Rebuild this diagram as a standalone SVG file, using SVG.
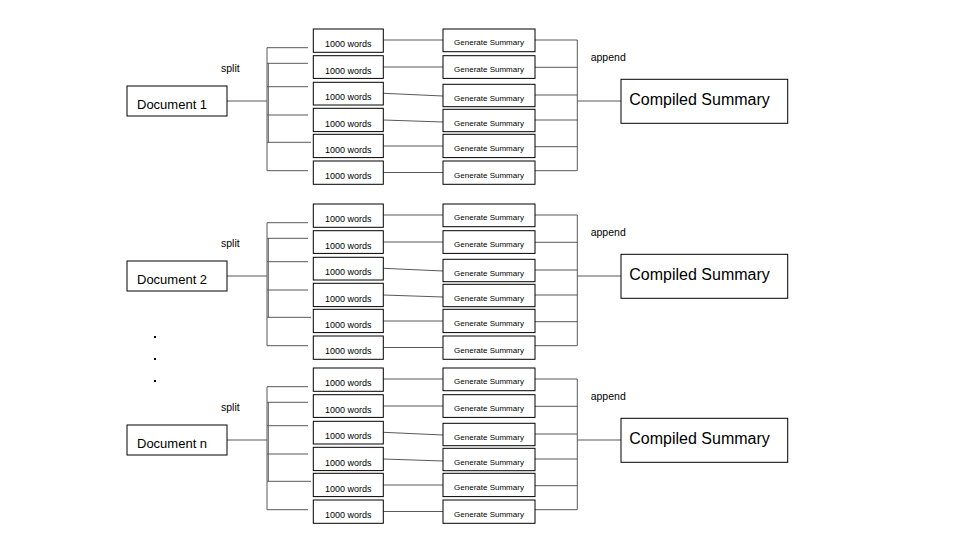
<svg xmlns="http://www.w3.org/2000/svg" width="960" height="540" viewBox="0 0 960 540">
<style>
  .box{fill:#ffffff;stroke:#000000;stroke-width:1}
  .ln{fill:none;stroke:#595959;stroke-width:1}
  text{font-family:"Liberation Sans",Arial,sans-serif;fill:#000000}
  .doc{font-size:13px}
  .cmp{font-size:16px}
  .w{font-size:9px}
  .gs{font-size:8px}
  .lbl{font-size:10.5px}
</style>
<rect width="960" height="540" fill="#ffffff"/>
<defs>
  <g id="tree">
    <path class="ln" d="M227,101H267M267,47.7V170.7M268.3,63.3V142.3M267,47.7H308M267,63.3H308M267,86.7H308M267,115H308M267,142.3H311M267,170.7H308"/>
    <path class="ln" d="M383.3,40H443M383.3,67H443M383.3,93.3L443,96M383.3,120L443,122M383.3,146H443M383.3,172.5H443"/>
    <path class="ln" d="M535,40H577.3M535,67.3H577.3M535,95H577.3M535,120H577.3M535,146.7H577.3M535,170.7H577.3M577.3,40V170.7M577.3,101H621"/>
  </g>
</defs>
<g id="connectors">
  <use href="#tree"/>
  <use href="#tree" transform="translate(0,175)"/>
  <use href="#tree" transform="translate(0,339)"/>
</g>

<g id="section1">
  <g id="doc1"><rect class="box" x="127" y="86" width="100" height="30"/><text class="doc" x="137" y="109">Document 1</text></g>
  <text class="lbl" x="221" y="72">split</text>
  <g id="w1_1"><rect class="box" x="313.3" y="29" width="70" height="23.3"/><text class="w" x="325" y="47">1000 words</text></g>
  <g id="w1_2"><rect class="box" x="313.3" y="55.7" width="70" height="22.7"/><text class="w" x="325" y="73.5">1000 words</text></g>
  <g id="w1_3"><rect class="box" x="313.3" y="82.3" width="70" height="22.7"/><text class="w" x="325" y="100.3">1000 words</text></g>
  <g id="w1_4"><rect class="box" x="313.3" y="108.3" width="70" height="23.3"/><text class="w" x="325" y="126.5">1000 words</text></g>
  <g id="w1_5"><rect class="box" x="313.3" y="134.3" width="70" height="23.3"/><text class="w" x="325" y="152.5">1000 words</text></g>
  <g id="w1_6"><rect class="box" x="313.3" y="161" width="70" height="23.3"/><text class="w" x="325" y="179">1000 words</text></g>
  <g id="g1_1"><rect class="box" x="443" y="29" width="92" height="22.7"/><text class="gs" x="489" y="45" text-anchor="middle">Generate Summary</text></g>
  <g id="g1_2"><rect class="box" x="443" y="55.7" width="92" height="22.7"/><text class="gs" x="489" y="72" text-anchor="middle">Generate Summary</text></g>
  <g id="g1_3"><rect class="box" x="443" y="84.3" width="92" height="22.4"/><text class="gs" x="489" y="100.5" text-anchor="middle">Generate Summary</text></g>
  <g id="g1_4"><rect class="box" x="443" y="109.3" width="92" height="22.4"/><text class="gs" x="489" y="126" text-anchor="middle">Generate Summary</text></g>
  <g id="g1_5"><rect class="box" x="443" y="134.3" width="92" height="23.3"/><text class="gs" x="489" y="151" text-anchor="middle">Generate Summary</text></g>
  <g id="g1_6"><rect class="box" x="443" y="161" width="92" height="23.3"/><text class="gs" x="489" y="177.5" text-anchor="middle">Generate Summary</text></g>
  <text class="lbl" x="590.7" y="61">append</text>
  <g id="c1"><rect class="box" x="621" y="79.3" width="166.7" height="44"/><text class="cmp" x="629.3" y="105">Compiled Summary</text></g>
</g>

<g id="section2" transform="translate(0,175)">
  <g id="doc2"><rect class="box" x="127" y="86" width="100" height="30"/><text class="doc" x="137" y="109">Document 2</text></g>
  <text class="lbl" x="221" y="72">split</text>
  <g id="w2_1"><rect class="box" x="313.3" y="29" width="70" height="23.3"/><text class="w" x="325" y="47">1000 words</text></g>
  <g id="w2_2"><rect class="box" x="313.3" y="55.7" width="70" height="22.7"/><text class="w" x="325" y="73.5">1000 words</text></g>
  <g id="w2_3"><rect class="box" x="313.3" y="82.3" width="70" height="22.7"/><text class="w" x="325" y="100.3">1000 words</text></g>
  <g id="w2_4"><rect class="box" x="313.3" y="108.3" width="70" height="23.3"/><text class="w" x="325" y="126.5">1000 words</text></g>
  <g id="w2_5"><rect class="box" x="313.3" y="134.3" width="70" height="23.3"/><text class="w" x="325" y="152.5">1000 words</text></g>
  <g id="w2_6"><rect class="box" x="313.3" y="161" width="70" height="23.3"/><text class="w" x="325" y="179">1000 words</text></g>
  <g id="g2_1"><rect class="box" x="443" y="29" width="92" height="22.7"/><text class="gs" x="489" y="45" text-anchor="middle">Generate Summary</text></g>
  <g id="g2_2"><rect class="box" x="443" y="55.7" width="92" height="22.7"/><text class="gs" x="489" y="72" text-anchor="middle">Generate Summary</text></g>
  <g id="g2_3"><rect class="box" x="443" y="84.3" width="92" height="22.4"/><text class="gs" x="489" y="100.5" text-anchor="middle">Generate Summary</text></g>
  <g id="g2_4"><rect class="box" x="443" y="109.3" width="92" height="22.4"/><text class="gs" x="489" y="126" text-anchor="middle">Generate Summary</text></g>
  <g id="g2_5"><rect class="box" x="443" y="134.3" width="92" height="23.3"/><text class="gs" x="489" y="151" text-anchor="middle">Generate Summary</text></g>
  <g id="g2_6"><rect class="box" x="443" y="161" width="92" height="23.3"/><text class="gs" x="489" y="177.5" text-anchor="middle">Generate Summary</text></g>
  <text class="lbl" x="590.7" y="61">append</text>
  <g id="c2"><rect class="box" x="621" y="79.3" width="166.7" height="44"/><text class="cmp" x="629.3" y="105">Compiled Summary</text></g>
</g>

<g id="dots" fill="#000000">
  <rect x="154" y="336" width="2" height="2"/>
  <rect x="154" y="358" width="2" height="2"/>
  <rect x="154" y="380" width="2" height="2"/>
</g>

<g id="section3" transform="translate(0,339)">
  <g id="docn"><rect class="box" x="127" y="86" width="100" height="30"/><text class="doc" x="137" y="109">Document n</text></g>
  <text class="lbl" x="221" y="72">split</text>
  <g id="w3_1"><rect class="box" x="313.3" y="29" width="70" height="23.3"/><text class="w" x="325" y="47">1000 words</text></g>
  <g id="w3_2"><rect class="box" x="313.3" y="55.7" width="70" height="22.7"/><text class="w" x="325" y="73.5">1000 words</text></g>
  <g id="w3_3"><rect class="box" x="313.3" y="82.3" width="70" height="22.7"/><text class="w" x="325" y="100.3">1000 words</text></g>
  <g id="w3_4"><rect class="box" x="313.3" y="108.3" width="70" height="23.3"/><text class="w" x="325" y="126.5">1000 words</text></g>
  <g id="w3_5"><rect class="box" x="313.3" y="134.3" width="70" height="23.3"/><text class="w" x="325" y="152.5">1000 words</text></g>
  <g id="w3_6"><rect class="box" x="313.3" y="161" width="70" height="23.3"/><text class="w" x="325" y="179">1000 words</text></g>
  <g id="g3_1"><rect class="box" x="443" y="29" width="92" height="22.7"/><text class="gs" x="489" y="45" text-anchor="middle">Generate Summary</text></g>
  <g id="g3_2"><rect class="box" x="443" y="55.7" width="92" height="22.7"/><text class="gs" x="489" y="72" text-anchor="middle">Generate Summary</text></g>
  <g id="g3_3"><rect class="box" x="443" y="84.3" width="92" height="22.4"/><text class="gs" x="489" y="100.5" text-anchor="middle">Generate Summary</text></g>
  <g id="g3_4"><rect class="box" x="443" y="109.3" width="92" height="22.4"/><text class="gs" x="489" y="126" text-anchor="middle">Generate Summary</text></g>
  <g id="g3_5"><rect class="box" x="443" y="134.3" width="92" height="23.3"/><text class="gs" x="489" y="151" text-anchor="middle">Generate Summary</text></g>
  <g id="g3_6"><rect class="box" x="443" y="161" width="92" height="23.3"/><text class="gs" x="489" y="177.5" text-anchor="middle">Generate Summary</text></g>
  <text class="lbl" x="590.7" y="61">append</text>
  <g id="cn"><rect class="box" x="621" y="79.3" width="166.7" height="44"/><text class="cmp" x="629.3" y="105">Compiled Summary</text></g>
</g>
</svg>
